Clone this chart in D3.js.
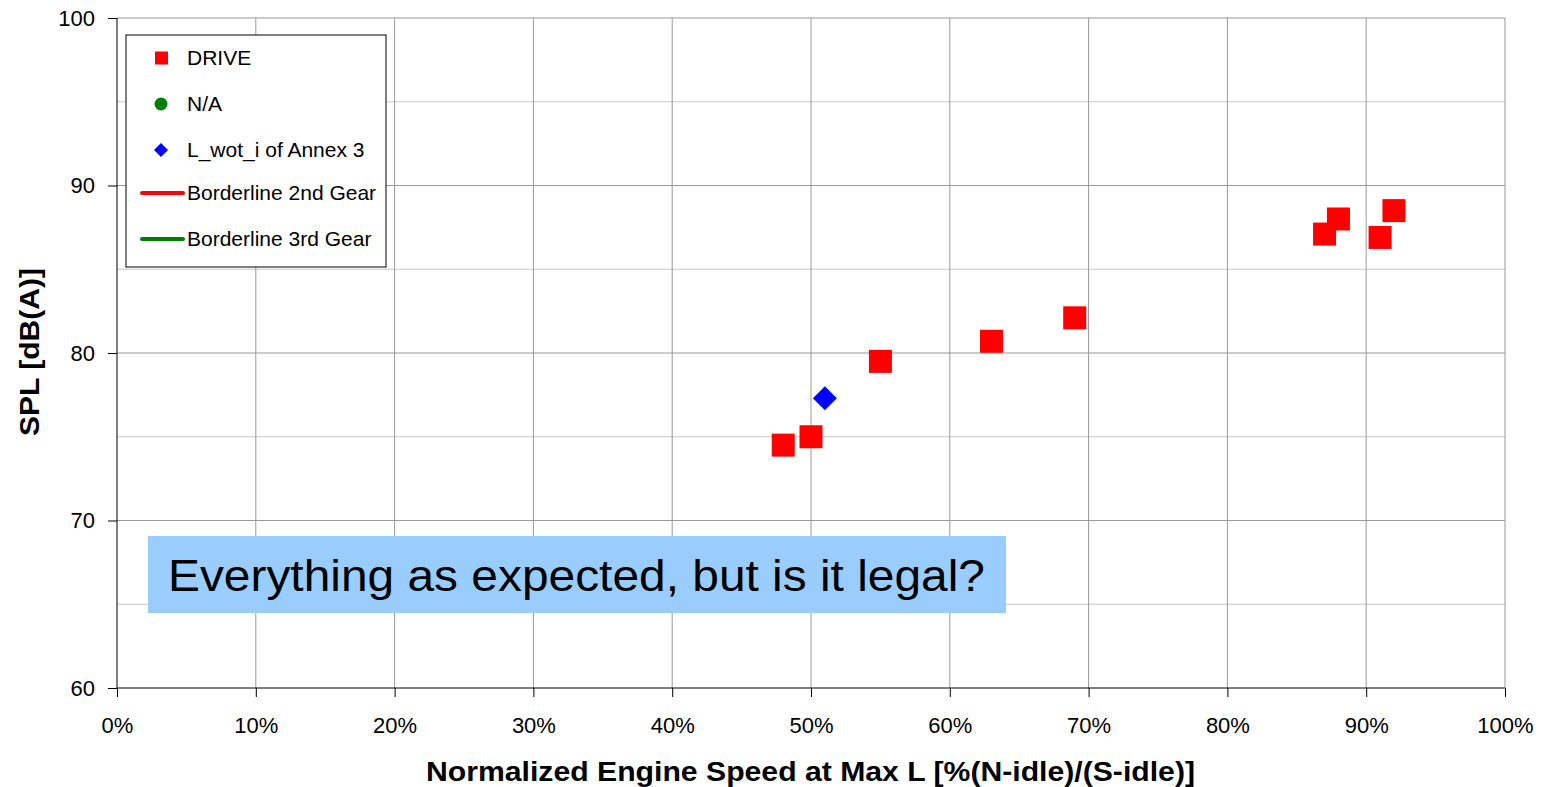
<!DOCTYPE html>
<html>
<head>
<meta charset="utf-8">
<script src="https://cdn.jsdelivr.net/npm/d3@7"></script>
<style>
  body { margin: 0; background: #fff; }
  svg { font-family: 'Liberation Sans', Arial, sans-serif; }
</style>
</head>
<body>
<svg width="1548" height="787"></svg>
<script>
// data
var driveX = [48, 50, 55, 63, 69, 87, 88, 91, 92]
var driveY = [74.5, 75.0, 79.5, 80.7, 82.1, 87.1, 88.0, 86.9, 88.5]
var annexX = [51]
var annexY = [77.3]
var xTicks = [0, 10, 20, 30, 40, 50, 60, 70, 80, 90, 100]
var yTicks = [60, 70, 80, 90, 100]
var yMinor = [65, 75, 85, 95]
var legendItems = [
  {label: 'DRIVE', type: 'square', color: '#ff0000'},
  {label: 'N/A', type: 'circle', color: '#008000'},
  {label: 'L_wot_i of Annex 3', type: 'diamond', color: '#0000ff'},
  {label: 'Borderline 2nd Gear', type: 'line', color: '#ff0000'},
  {label: 'Borderline 3rd Gear', type: 'line', color: '#008000'}
]
var note = 'Everything as expected, but is it legal?'

var svg = d3.select('svg'),
  margin = {top: 18, right: 43, bottom: 99, left: 117},
  width = +svg.attr('width') - margin.left - margin.right,
  height = +svg.attr('height') - margin.top - margin.bottom

var x = d3.scaleLinear().domain([0, 100]).range([0, width])
var y = d3.scaleLinear().domain([60, 100]).range([height, 0])

var g = svg.append('g')
    .attr('transform', 'translate(' + margin.left + ',' + margin.top + ')')

// gridlines
g.selectAll('.minor').data(yMinor).enter().append('line')
    .attr('x1', 0).attr('x2', width)
    .attr('y1', d => y(d)).attr('y2', d => y(d))
    .attr('stroke', '#c8c8c8').attr('stroke-width', 1)
g.selectAll('.hmajor').data(yTicks.slice(1)).enter().append('line')
    .attr('x1', 0).attr('x2', width)
    .attr('y1', d => y(d)).attr('y2', d => y(d))
    .attr('stroke', '#999').attr('stroke-width', 1)
g.selectAll('.vmajor').data(xTicks.slice(1)).enter().append('line')
    .attr('x1', d => x(d)).attr('x2', d => x(d))
    .attr('y1', 0).attr('y2', height)
    .attr('stroke', '#999').attr('stroke-width', 1)

// axes
var xAxis = d3.axisBottom(x).tickValues(xTicks).tickSize(9).tickFormat(d => d + '%')
var yAxis = d3.axisLeft(y).tickValues(yTicks).tickSize(9)

var gx = g.append('g')
    .attr('transform', 'translate(0,' + height + ')')
    .call(xAxis)
gx.selectAll('text').attr('y', 37).attr('dy', '0.35em')
var gy = g.append('g').call(yAxis)
gy.selectAll('text').attr('x', -22)
gx.select('.domain').remove()
gy.select('.domain').remove()
g.append('line').attr('x1', 0).attr('x2', width).attr('y1', height).attr('y2', height).attr('stroke', '#000')
g.append('line').attr('x1', 0).attr('x2', 0).attr('y1', 0).attr('y2', height).attr('stroke', '#000')
svg.selectAll('.tick line').attr('stroke', '#000')
svg.selectAll('.tick text').attr('font-size', 22).attr('fill', '#000')
  .attr('font-family', "'Liberation Sans', Arial, sans-serif")

// points
var drive = driveX.map((v, i) => ({x: v, y: driveY[i]}))
var annex = annexX.map((v, i) => ({x: v, y: annexY[i]}))
var sq = 23
g.selectAll('.drive').data(drive).enter().append('rect')
    .attr('x', d => x(d.x) - sq / 2)
    .attr('y', d => y(d.y) - sq / 2)
    .attr('width', sq).attr('height', sq)
    .attr('fill', '#ff0000')
g.selectAll('.annex').data(annex).enter().append('path')
    .attr('transform', d => 'translate(' + x(d.x) + ',' + y(d.y) + ')')
    .attr('d', 'M0,-12L12,0L0,12L-12,0Z')
    .attr('fill', '#0000ff')

// legend
var legend = svg.append('g').attr('transform', 'translate(126,35)')
legend.append('rect').attr('width', 260).attr('height', 232)
    .attr('fill', '#fff').attr('stroke', '#000')
var item = legend.selectAll('.item').data(legendItems).enter().append('g')
    .attr('transform', (d, i) => 'translate(0,' + [23, 69, 115, 158, 204][i] + ')')
item.each(function (d) {
  var s = d3.select(this)
  if (d.type === 'square') s.append('rect').attr('x', 29).attr('y', -6.5).attr('width', 13).attr('height', 13).attr('fill', d.color)
  if (d.type === 'circle') s.append('circle').attr('cx', 35).attr('r', 6.5).attr('fill', d.color)
  if (d.type === 'diamond') s.append('path').attr('d', 'M35,-7L42,0L35,7L28,0Z').attr('fill', d.color)
  if (d.type === 'line') s.append('line').attr('x1', 16).attr('x2', 57).attr('stroke', d.color)
      .attr('stroke-width', 4).attr('stroke-linecap', 'round')
})
item.append('text').attr('x', 61).attr('dy', '0.35em')
    .attr('font-size', 21).text(d => d.label)

// annotation
svg.append('rect').attr('x', 148).attr('y', 536).attr('width', 858).attr('height', 77)
    .attr('fill', '#99ccff')
svg.append('text').attr('x', 168).attr('y', 591)
    .attr('font-size', 45).attr('textLength', 817).attr('lengthAdjust', 'spacingAndGlyphs')
    .text(note)

// axis titles
svg.append('text').attr('x', 426).attr('y', 781)
    .attr('font-size', 27).attr('font-weight', 'bold')
    .attr('textLength', 769).attr('lengthAdjust', 'spacingAndGlyphs')
    .text('Normalized Engine Speed at Max L [%(N-idle)/(S-idle)]')
svg.append('text').attr('transform', 'translate(39,436) rotate(-90)')
    .attr('font-size', 27).attr('font-weight', 'bold')
    .attr('textLength', 168).attr('lengthAdjust', 'spacingAndGlyphs')
    .text('SPL [dB(A)]')
</script>
</body>
</html>
